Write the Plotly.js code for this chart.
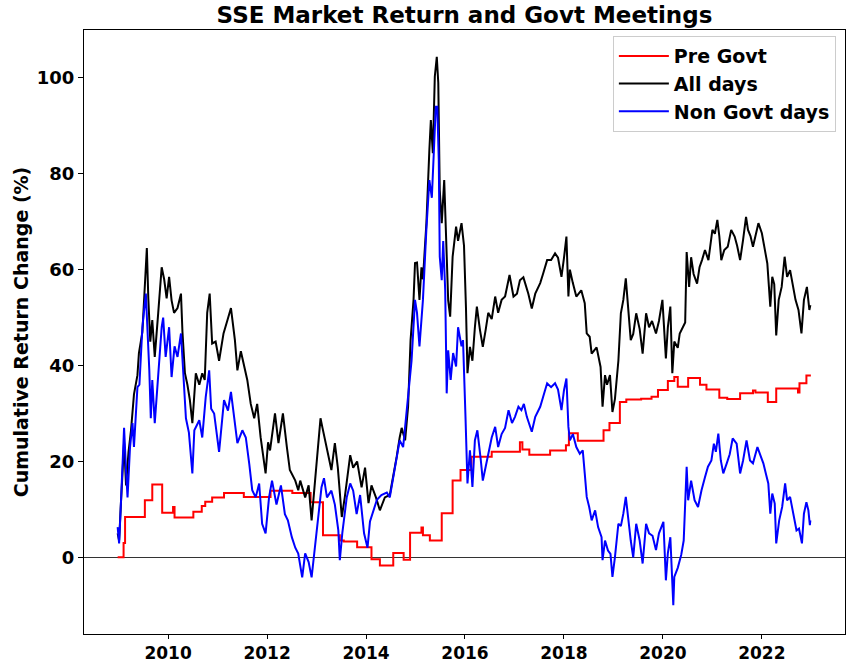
<!DOCTYPE html>
<html>
<head>
<meta charset="utf-8">
<script src="https://cdn.plot.ly/plotly-3.0.1.min.js"></script>
<style>html,body{margin:0;padding:0;background:#fff;}#chart{width:847px;height:662px;}</style>
</head>
<body>
<div id="chart"></div>
<script>
// Pre Govt (step series): step start year and value
const preYears = [2008.98,2009.10,2009.13,2009.53,2009.68,2009.88,2010.10,2010.13,2010.51,2010.68,2010.75,2010.89,2011.13,2011.53,2012.07,2012.51,2012.88,2013.13,2013.47,2013.55,2013.82,2014.11,2014.28,2014.55,2014.76,2014.89,2015.12,2015.15,2015.29,2015.53,2015.75,2015.91,2016.13,2016.54,2017.11,2017.16,2017.30,2017.72,2018.04,2018.10,2018.28,2018.80,2018.92,2019.13,2019.26,2019.56,2019.77,2019.90,2020.10,2020.23,2020.30,2020.51,2020.75,2020.88,2021.14,2021.30,2021.56,2021.82,2021.87,2022.12,2022.29,2022.73,2022.76,2022.90,2022.99];
const preVals = [0,3,8.4,11.9,15.2,9.3,10.5,8.3,9.5,10.7,11.6,12.5,13.4,12.6,13.9,13.4,11.5,4.6,3.5,3.3,2.1,-0.4,-1.7,0.9,-0.5,5.1,6.2,4.6,3.5,9.2,16.0,18.2,21.0,22.0,24.0,22.5,21.4,22.3,23.4,25.9,24.3,26.5,28.0,32.4,32.9,33.1,33.5,34.9,36.8,37.6,35.6,37.4,36.0,35.0,33.3,33.0,34.2,34.8,34.4,32.4,35.2,34.4,36.3,37.9,37.9];

// All days
const allYears = [2008.98,2009.01,2009.04,2009.08,2009.11,2009.15,2009.20,2009.25,2009.31,2009.38,2009.41,2009.48,2009.55,2009.57,2009.60,2009.64,2009.68,2009.73,2009.80,2009.87,2009.92,2009.97,2010.02,2010.07,2010.12,2010.19,2010.26,2010.29,2010.34,2010.39,2010.44,2010.49,2010.56,2010.63,2010.69,2010.74,2010.79,2010.84,2010.89,2010.96,2011.03,2011.12,2011.20,2011.27,2011.35,2011.40,2011.47,2011.53,2011.60,2011.67,2011.74,2011.80,2011.87,2011.97,2012.02,2012.06,2012.16,2012.23,2012.32,2012.40,2012.46,2012.57,2012.63,2012.67,2012.77,2012.84,2012.90,2012.97,2013.04,2013.08,2013.12,2013.20,2013.30,2013.37,2013.43,2013.51,2013.57,2013.68,2013.74,2013.82,2013.91,2013.98,2014.05,2014.11,2014.20,2014.28,2014.38,2014.48,2014.55,2014.62,2014.68,2014.72,2014.79,2014.85,2014.90,2014.96,2014.99,2015.03,2015.08,2015.12,2015.15,2015.22,2015.28,2015.31,2015.35,2015.39,2015.43,2015.46,2015.49,2015.53,2015.58,2015.62,2015.66,2015.70,2015.75,2015.82,2015.86,2015.93,2015.98,2016.02,2016.05,2016.10,2016.15,2016.20,2016.24,2016.30,2016.36,2016.42,2016.47,2016.54,2016.61,2016.67,2016.74,2016.81,2016.90,2016.98,2017.05,2017.11,2017.18,2017.28,2017.35,2017.42,2017.52,2017.58,2017.66,2017.74,2017.82,2017.88,2017.95,2018.00,2018.05,2018.09,2018.12,2018.18,2018.25,2018.35,2018.42,2018.46,2018.52,2018.56,2018.66,2018.74,2018.78,2018.83,2018.87,2018.93,2018.98,2019.03,2019.10,2019.15,2019.20,2019.25,2019.30,2019.35,2019.40,2019.46,2019.53,2019.59,2019.66,2019.72,2019.78,2019.86,2019.92,2019.99,2020.06,2020.10,2020.15,2020.19,2020.23,2020.30,2020.34,2020.40,2020.45,2020.48,2020.53,2020.57,2020.62,2020.69,2020.74,2020.79,2020.85,2020.92,2021.00,2021.05,2021.10,2021.14,2021.18,2021.24,2021.31,2021.38,2021.45,2021.50,2021.56,2021.62,2021.68,2021.72,2021.77,2021.82,2021.89,2021.93,2022.00,2022.04,2022.11,2022.17,2022.21,2022.25,2022.29,2022.34,2022.40,2022.46,2022.51,2022.57,2022.62,2022.68,2022.74,2022.80,2022.85,2022.91,2022.96,2022.98];
const allVals = [5,3.5,10,18,24,15,22,26.5,34,38,42.6,47,59,64.5,54,45,49.5,41.8,51,60.5,58,54,58.5,53.6,51,52,55,47,38.4,36,32.8,28,38.4,36,38.4,37,51,55,44.6,45,41,46.7,49.5,52,45.3,39,43,40.5,37,32,29,32,25,17.5,24,22.3,30,23.8,30,23,18.2,16,14,16,12.5,15,7.7,16,25,29,27,23,18.2,23.8,18.7,8.4,12.5,21.3,18.7,20,14.6,18.7,11.3,15,12.5,9.8,12.5,13,16.7,21,25,27,24.4,31.4,45.3,53.7,61.4,61.5,53.7,60.5,58,69.7,85,91.2,84.3,100.3,104.4,99,76.6,69.7,78.7,66.2,53.6,50.2,62.7,69,66,69.7,65,52,38.4,43.9,41,48,52.3,47.6,43.9,47.6,51,49.7,54.4,51,53.7,54.4,58.9,54.4,55,57.8,58.4,55,51.9,55,57.2,59.2,62,62,63.4,62.5,58.5,62.4,66.9,54.4,60,57.2,54.4,55.7,53,46.7,46,42.5,43.8,39.7,31.4,38,36,38,30.3,33,41,50.9,53.7,58.2,51.5,45.3,46.6,50.9,47.6,42.5,50.9,48,49.3,46.7,49.3,53.7,41.5,48,52.3,38.4,45,43.7,46.7,48,49,63.7,56.4,62.6,59.1,57.1,60.5,62,64.1,62,68.3,67.5,70.4,67,62,64.1,64.8,68.3,66.9,65,62,66.2,71,68.3,67,64.8,68.3,69.7,67.6,65.5,61.3,52.3,58.5,57,46.3,53.7,56.4,62.7,58.5,59.9,57.1,53.7,51.6,46.7,53.7,56.4,51.6,52.6];

// Non Govt days
const nonYears = [2008.98,2009.01,2009.04,2009.08,2009.11,2009.15,2009.18,2009.23,2009.28,2009.31,2009.38,2009.42,2009.48,2009.55,2009.58,2009.62,2009.65,2009.68,2009.73,2009.80,2009.87,2009.90,2009.95,2010.02,2010.07,2010.13,2010.19,2010.26,2010.30,2010.36,2010.42,2010.49,2010.53,2010.63,2010.69,2010.76,2010.83,2010.87,2010.93,2011.03,2011.13,2011.21,2011.27,2011.33,2011.40,2011.50,2011.57,2011.64,2011.70,2011.77,2011.84,2011.90,2011.97,2012.04,2012.10,2012.19,2012.28,2012.36,2012.42,2012.50,2012.57,2012.63,2012.71,2012.77,2012.84,2012.90,2012.97,2013.04,2013.10,2013.15,2013.21,2013.30,2013.37,2013.44,2013.47,2013.52,2013.61,2013.68,2013.74,2013.81,2013.88,2013.96,2014.03,2014.08,2014.15,2014.22,2014.31,2014.42,2014.48,2014.55,2014.62,2014.68,2014.75,2014.82,2014.87,2014.92,2014.99,2015.03,2015.08,2015.12,2015.15,2015.22,2015.28,2015.33,2015.36,2015.41,2015.44,2015.47,2015.49,2015.53,2015.56,2015.60,2015.63,2015.66,2015.71,2015.76,2015.82,2015.86,2015.93,2015.96,2016.01,2016.05,2016.10,2016.15,2016.20,2016.25,2016.32,2016.36,2016.42,2016.47,2016.54,2016.61,2016.67,2016.74,2016.81,2016.88,2016.95,2017.01,2017.08,2017.14,2017.19,2017.25,2017.35,2017.42,2017.52,2017.58,2017.66,2017.74,2017.82,2017.88,2017.95,2018.00,2018.05,2018.09,2018.12,2018.18,2018.25,2018.32,2018.38,2018.42,2018.46,2018.51,2018.56,2018.63,2018.69,2018.76,2018.78,2018.83,2018.89,2018.94,2018.98,2019.03,2019.10,2019.15,2019.20,2019.25,2019.30,2019.35,2019.40,2019.46,2019.53,2019.59,2019.66,2019.72,2019.79,2019.86,2019.92,2020.01,2020.06,2020.10,2020.15,2020.21,2020.23,2020.30,2020.37,2020.42,2020.48,2020.51,2020.57,2020.64,2020.71,2020.78,2020.85,2020.91,2020.98,2021.03,2021.07,2021.12,2021.17,2021.22,2021.29,2021.35,2021.41,2021.49,2021.56,2021.62,2021.69,2021.76,2021.82,2021.91,2021.98,2022.03,2022.08,2022.13,2022.17,2022.21,2022.26,2022.29,2022.35,2022.41,2022.47,2022.51,2022.57,2022.62,2022.70,2022.75,2022.81,2022.85,2022.90,2022.94,2022.97,2022.98];
const nonVals = [6.3,2.9,9.8,18,27,18,12.5,23,28,23,35.5,36,48,55,48.8,39,29,37,28,39,48,50,41.8,48,37.6,44,41.8,46.7,40,29,26,17.5,26.5,28.6,25,33.4,39,31,30,22,32.8,30.6,34.5,29,23.8,26.5,25,19.5,14,12.5,15.4,7,5,12.5,16,11,15,9,7.7,4.2,2,0.8,-4.2,0.8,-1,-4.2,2.5,9.8,14.6,16.5,12.5,13.9,11,5.6,-0.6,5,12.5,15.4,13.9,9,13,5,2,7.5,9.8,12,13,13.5,12.5,16.7,20,24.4,23,31,36,41,53.7,51,44,49,53.7,68.5,78.7,75,83.6,94,94,83,62.7,57.8,66,55.7,34.2,43.2,37,42.6,39.8,48,44,45.3,29.3,15.4,22.3,14.7,24.4,26.5,20.2,16,19,21.6,25,27.2,23,25.7,27,30.7,28,29.3,31.4,30.7,32,29.3,26.2,29.3,31.4,33.5,36.3,35.5,36.3,35,30.7,34.8,37.3,27.2,24.4,25.7,23,21.6,22.3,17.5,12.6,10.5,7.7,9.8,6.3,4.2,-0.6,3.5,1.4,0.7,-4.1,0,7,6.5,9.1,12.6,7.7,3.5,0,7,3.5,-1.3,7,5,4.5,1.5,5,7.4,-4.8,0.9,4.2,-10,-4.1,-2.2,0.5,3.5,18.9,11.9,16,11.9,10.5,14,16.7,18.9,20.2,23.7,22,25.8,20.2,17.5,19.6,21.5,24.8,23.7,17.5,20.2,24.4,20.2,19.6,23,21,19.6,17.5,15.4,9.1,13.3,11.2,2.9,7.7,10.5,15.4,11.9,12.6,9.8,5.6,6,2.9,9.1,11.5,9.8,6.7,7.7];

const xTicks = [2010,2012,2014,2016,2018,2020,2022];
const yTicks = [0,20,40,60,80,100];

const traces = [
  {x: preYears, y: preVals, name: 'Pre Govt', type: 'scatter', mode: 'lines',
   line: {color: '#ff0000', width: 2, shape: 'hv'}},
  {x: allYears, y: allVals, name: 'All days', type: 'scatter', mode: 'lines',
   line: {color: '#000000', width: 2}},
  {x: nonYears, y: nonVals, name: 'Non Govt days', type: 'scatter', mode: 'lines',
   line: {color: '#0000ff', width: 2}}
];

const layout = {
  width: 847, height: 662,
  margin: {l: 84, r: 2, t: 30, b: 28},
  paper_bgcolor: '#ffffff', plot_bgcolor: '#ffffff',
  font: {family: 'DejaVu Sans', size: 18, color: '#000', weight: 'bold'},
  title: {text: 'SSE Market Return and Govt Meetings', x: 0.5, xref: 'paper', xanchor: 'center',
          y: 0.977, yref: 'container', yanchor: 'middle',
          font: {family: 'DejaVu Sans', size: 23, color: '#000', weight: 'bold'}},
  xaxis: {range: [2008.3, 2023.68], tickvals: xTicks, ticktext: xTicks.map(String),
          showgrid: false, zeroline: false, showline: true, linecolor: '#000', linewidth: 1, mirror: true,
          ticks: 'outside', ticklen: 4, tickwidth: 1, tickcolor: '#000',
          tickfont: {family: 'DejaVu Sans', size: 17, color: '#000', weight: 'bold'}},
  yaxis: {range: [-16, 110], tickvals: yTicks, showgrid: false,
          zeroline: true, zerolinecolor: '#333', zerolinewidth: 1,
          showline: true, linecolor: '#000', linewidth: 1, mirror: true,
          ticks: 'outside', ticklen: 5, tickwidth: 1, tickcolor: '#000',
          tickfont: {family: 'DejaVu Sans', size: 18, color: '#000', weight: 'bold'},
          title: {text: 'Cumulative Return Change (%)', standoff: 3,
                  font: {family: 'DejaVu Sans', size: 19, color: '#000', weight: 'bold'}}},
  legend: {x: 0.988, xanchor: 'right', y: 0.99, yanchor: 'top',
           bgcolor: '#ffffff', bordercolor: '#cccccc', borderwidth: 1,
           itemwidth: 50,
           font: {family: 'DejaVu Sans', size: 19, color: '#000', weight: 'bold'},
           tracegroupgap: 0},
  showlegend: true
};

Plotly.newPlot('chart', traces, layout, {displayModeBar: false, staticPlot: true});
</script>
</body>
</html>
